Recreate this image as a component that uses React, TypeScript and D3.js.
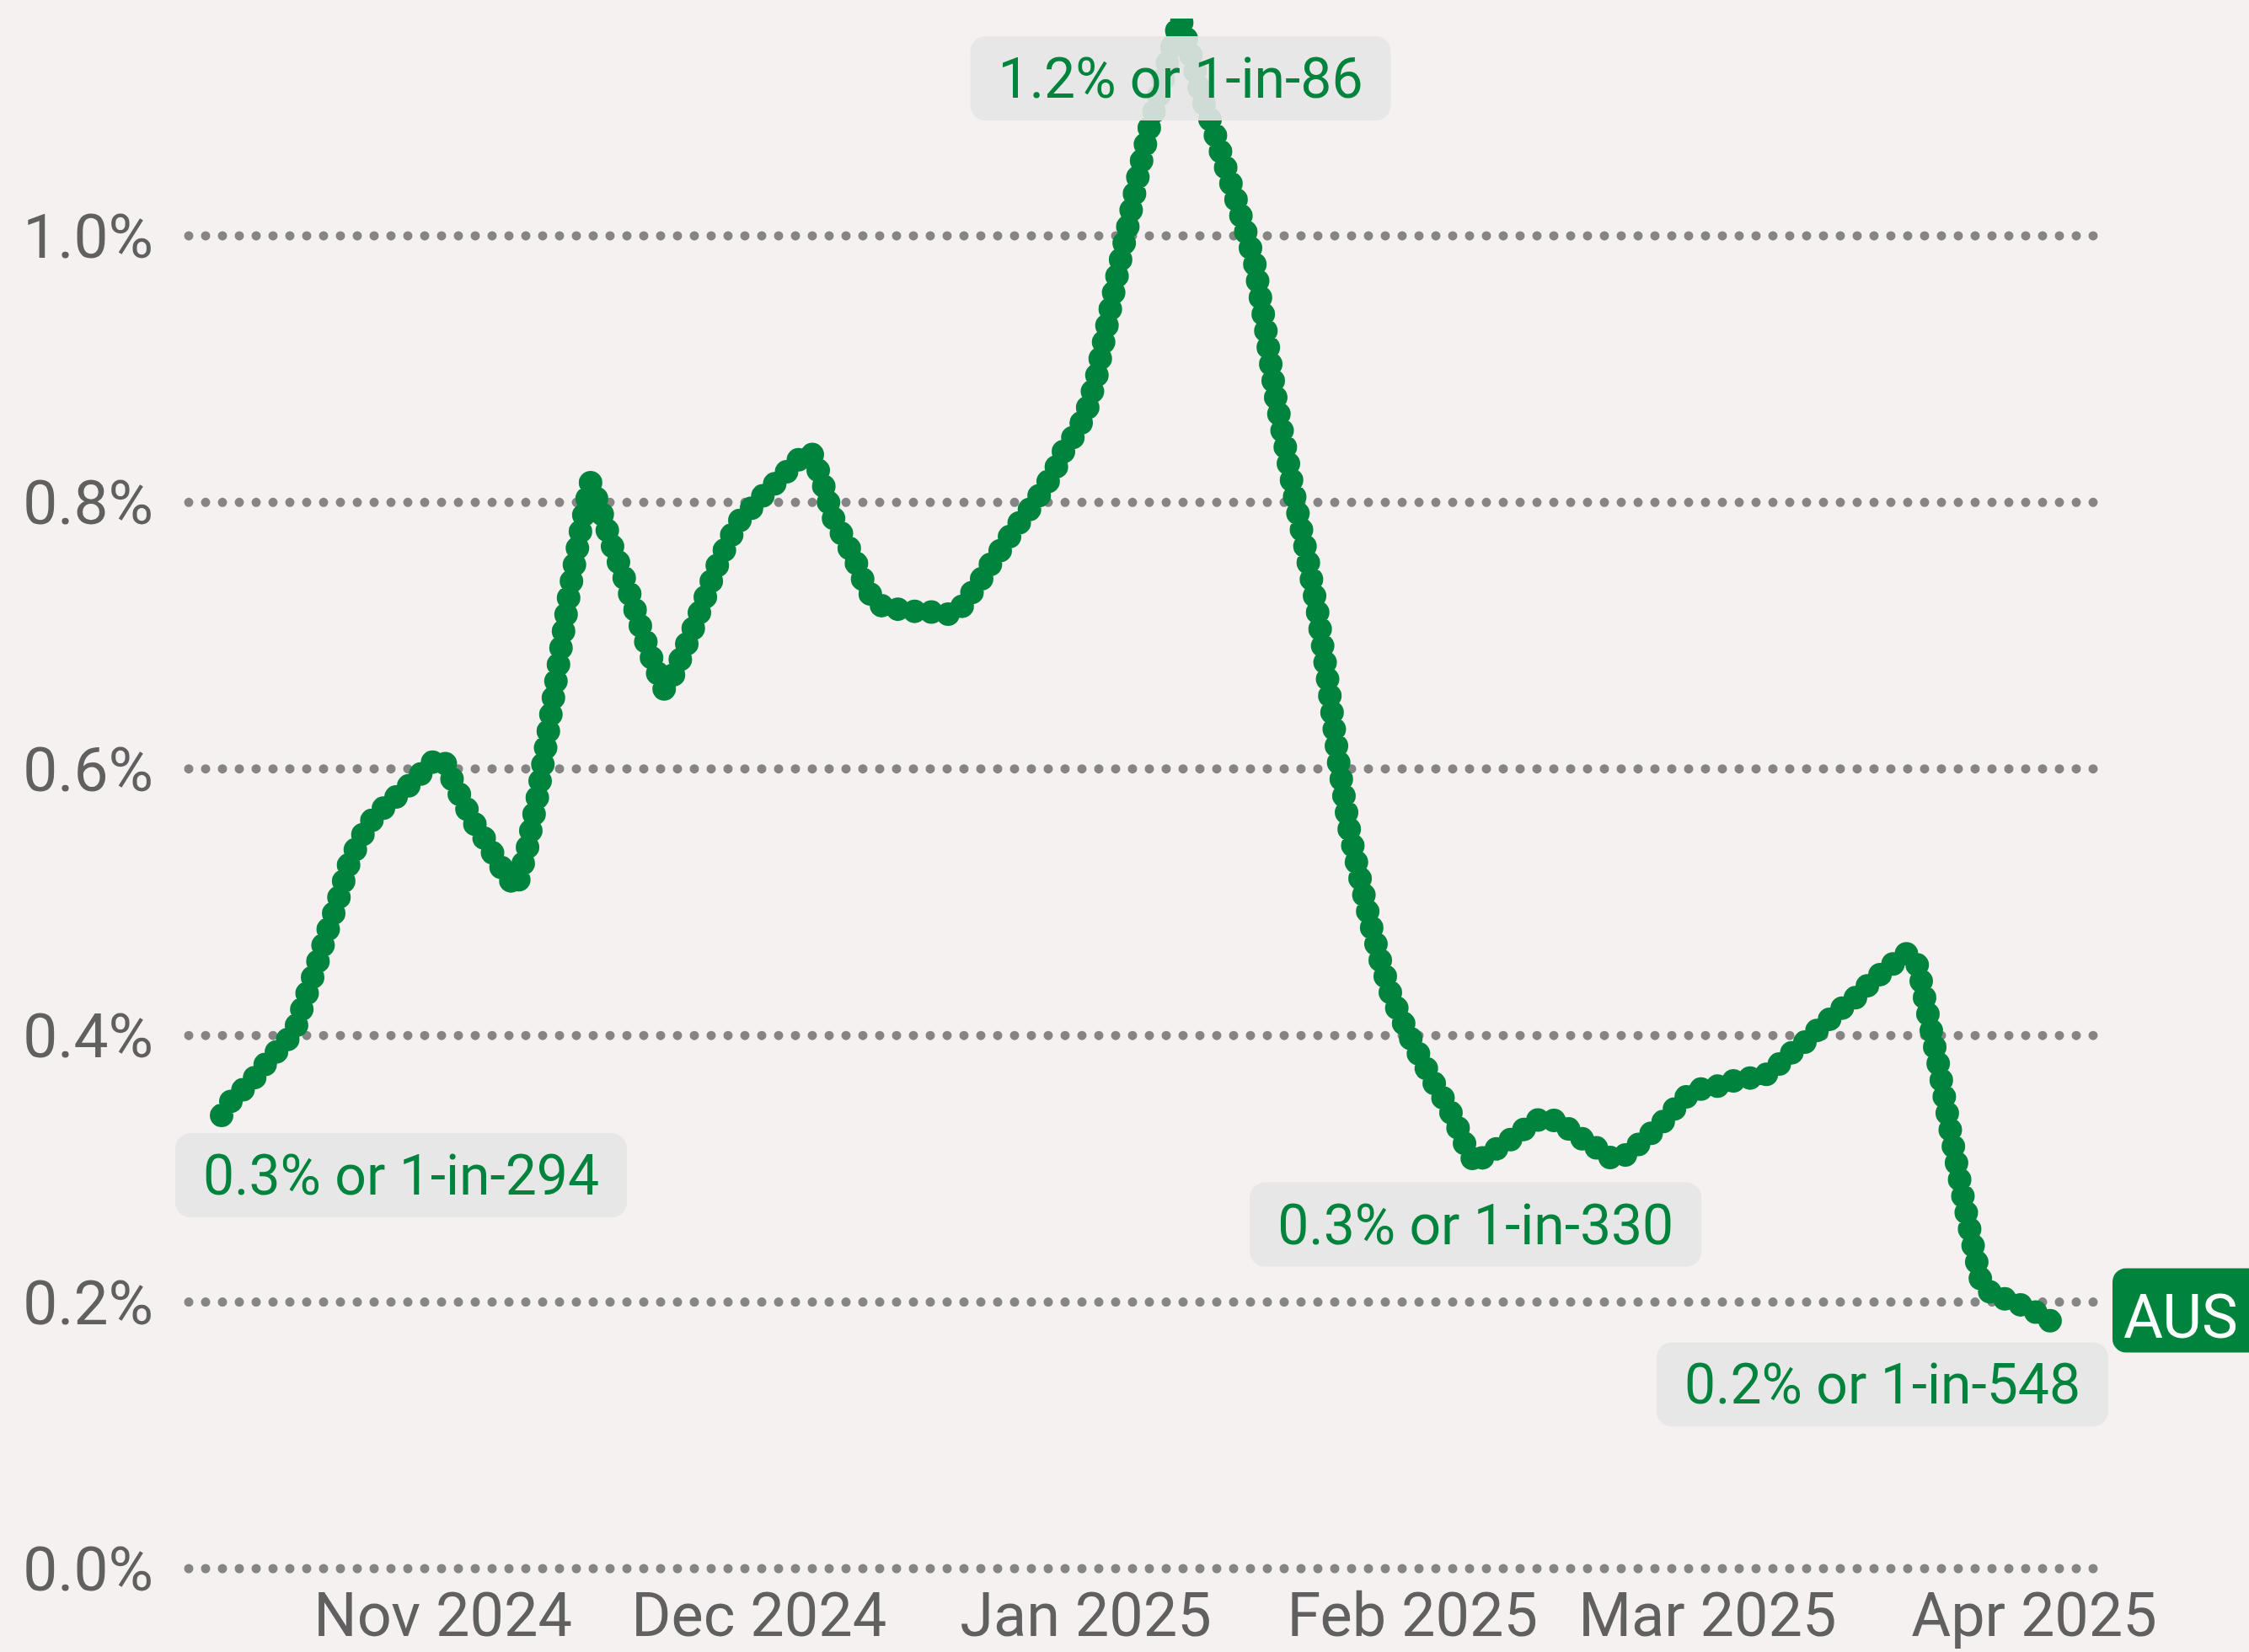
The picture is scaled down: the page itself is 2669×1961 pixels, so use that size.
import React, { useEffect, useRef } from "react";
import * as d3 from "d3";

// ---- data ----
const startDate = "2024-10-11";
const seriesName = "AUS";
const values: number[] = [
  0.340, 0.352, 0.359, 0.367, 0.377, 0.386, 0.394, 0.405, 0.429, 0.452,
  0.477, 0.500, 0.527, 0.545, 0.559, 0.568, 0.575, 0.582, 0.589, 0.597,
  0.605, 0.608, 0.590, 0.574, 0.559, 0.547, 0.533, 0.520, 0.511, 0.540,
  0.580, 0.628, 0.680, 0.732, 0.776, 0.815, 0.794, 0.769, 0.748, 0.725,
  0.701, 0.679, 0.660, 0.672, 0.691, 0.710, 0.731, 0.752, 0.769, 0.785,
  0.793, 0.802, 0.810, 0.818, 0.826, 0.834, 0.837, 0.816, 0.789, 0.774,
  0.759, 0.739, 0.725, 0.721, 0.720, 0.719, 0.718, 0.718, 0.717, 0.716,
  0.719, 0.730, 0.741, 0.754, 0.765, 0.777, 0.788, 0.798, 0.810, 0.823,
  0.840, 0.851, 0.866, 0.893, 0.932, 0.971, 1.007, 1.046, 1.080, 1.107,
  1.137, 1.163, 1.135, 1.104, 1.083, 1.058, 1.034, 1.008, 0.981, 0.934,
  0.880, 0.839, 0.797, 0.760, 0.718, 0.665, 0.605, 0.555, 0.519, 0.485,
  0.455, 0.430, 0.412, 0.395, 0.380, 0.365, 0.352, 0.337, 0.318, 0.303,
  0.311, 0.315, 0.320, 0.326, 0.332, 0.337, 0.338, 0.334, 0.329, 0.323,
  0.318, 0.313, 0.307, 0.309, 0.315, 0.322, 0.329, 0.337, 0.346, 0.354,
  0.359, 0.361, 0.362, 0.365, 0.367, 0.368, 0.369, 0.372, 0.380, 0.387,
  0.393, 0.401, 0.408, 0.415, 0.422, 0.428, 0.436, 0.443, 0.450, 0.456,
  0.462, 0.452, 0.413, 0.375, 0.331, 0.289, 0.250, 0.214, 0.206, 0.203,
  0.200, 0.197, 0.193, 0.189, 0.183,
];
const yTicks = [0, 0.2, 0.4, 0.6, 0.8, 1.0];
const annotationIndex = [0, 91, 119, 174];
const annotationLabels = [
  "0.3% or 1-in-294",
  "1.2% or 1-in-86",
  "0.3% or 1-in-330",
  "0.2% or 1-in-548",
];

// ---- layout / style ----
const W = 2669;
const H = 1961;
const X0 = 263;
const X1 = 2439;
const Y_TOP = 22;
const Y_BOT = 1862;
const GRID_X0 = 224;
const GRID_X1 = 2486;
const BOX_MIN_X = 208;
const BOX_MAX_X = 2502;
const GREEN = "#00843d";
const BG = "#f6f1f1";
const GRID = "#858585";
const TXT = "#606060";
const FONT = "Roboto, 'Open Sans', sans-serif";

export default function App() {
  const ref = useRef<SVGSVGElement | null>(null);

  useEffect(() => {
    const svg = d3.select(ref.current!);
    svg.selectAll("*").remove();

    const t0 = new Date(startDate + "T00:00:00Z");
    const data = values.map((v, i) => ({
      date: d3.utcDay.offset(t0, i),
      value: v,
    }));

    const x = d3
      .scaleUtc()
      .domain([data[0].date, data[data.length - 1].date])
      .range([X0, X1]);
    const y = d3
      .scaleLinear()
      .domain([0, d3.max(values) as number])
      .range([Y_BOT, Y_TOP]);

    svg.append("rect").attr("width", W).attr("height", H).attr("fill", BG);

    const defs = svg.append("defs");
    defs
      .append("clipPath")
      .attr("id", "plotclip")
      .append("rect")
      .attr("x", 0)
      .attr("y", Y_TOP)
      .attr("width", W)
      .attr("height", H - Y_TOP);

    // grid lines
    const g = svg.append("g");
    g.selectAll("line.grid")
      .data(yTicks)
      .join("line")
      .attr("class", "grid")
      .attr("x1", GRID_X0)
      .attr("x2", GRID_X1)
      .attr("y1", (d) => y(d))
      .attr("y2", (d) => y(d))
      .attr("stroke", GRID)
      .attr("stroke-width", 11)
      .attr("stroke-linecap", "round")
      .attr("stroke-dasharray", "0 20");

    // y labels
    g.selectAll("text.ylab")
      .data(yTicks)
      .join("text")
      .attr("class", "ylab")
      .attr("x", 182)
      .attr("y", (d) => y(d) + 26)
      .attr("text-anchor", "end")
      .attr("font-family", FONT)
      .attr("font-size", 73)
      .attr("fill", TXT)
      .text((d) => d3.format(".1f")(d) + "%");

    // x labels
    const months = x.ticks(d3.utcMonth.every(1) as any);
    g.selectAll("text.xlab")
      .data(months)
      .join("text")
      .attr("class", "xlab")
      .attr("x", (d) => x(d))
      .attr("y", 1942)
      .attr("text-anchor", "middle")
      .attr("font-family", FONT)
      .attr("font-size", 72)
      .attr("fill", TXT)
      .text((d) => d3.utcFormat("%b %Y")(d));

    // line
    const line = d3
      .line<{ date: Date; value: number }>()
      .x((d) => x(d.date))
      .y((d) => y(d.value))
      .curve(d3.curveLinear);

    svg
      .append("path")
      .datum(data)
      .attr("clip-path", "url(#plotclip)")
      .attr("d", line)
      .attr("fill", "none")
      .attr("stroke", GREEN)
      .attr("stroke-width", 28)
      .attr("stroke-linecap", "round")
      .attr("stroke-linejoin", "round")
      .attr("stroke-dasharray", "0 20");

    // annotations
    annotationIndex.forEach((idx, k) => {
      const d = data[idx];
      const px = x(d.date);
      const py = Math.max(y(d.value), Y_TOP);
      const ag = svg.append("g");
      const rect = ag.append("rect");
      const txt = ag
        .append("text")
        .attr("font-family", FONT)
        .attr("font-size", 66)
        .attr("fill", GREEN)
        .attr("text-anchor", "middle")
        .text(annotationLabels[k]);
      const tw = (txt.node() as SVGTextElement).getComputedTextLength();
      const bw = tw + 66;
      let cx = px;
      cx = Math.max(cx, BOX_MIN_X + bw / 2);
      cx = Math.min(cx, BOX_MAX_X - bw / 2);
      const top = py + 21;
      rect
        .attr("x", cx - bw / 2)
        .attr("y", top)
        .attr("width", bw)
        .attr("height", 100)
        .attr("rx", 18)
        .attr("fill", "#e6e6e6")
        .attr("fill-opacity", 0.9);
      txt.attr("x", cx).attr("y", top + 73);
    });

    // series label
    const last = data[data.length - 1];
    const ly = y(last.value);
    const sg = svg.append("g");
    sg.append("rect")
      .attr("x", 2507)
      .attr("y", ly - 67)
      .attr("width", 200)
      .attr("height", 100)
      .attr("rx", 16)
      .attr("fill", GREEN);
    sg.append("text")
      .attr("x", 2520)
      .attr("y", ly + 16)
      .attr("font-family", FONT)
      .attr("font-size", 72)
      .attr("fill", "#ffffff")
      .text(seriesName);
  }, []);

  return (
    <svg
      ref={ref}
      width={W}
      height={H}
      style={{ position: "absolute", left: 0, top: 0, display: "block" }}
    />
  );
}
